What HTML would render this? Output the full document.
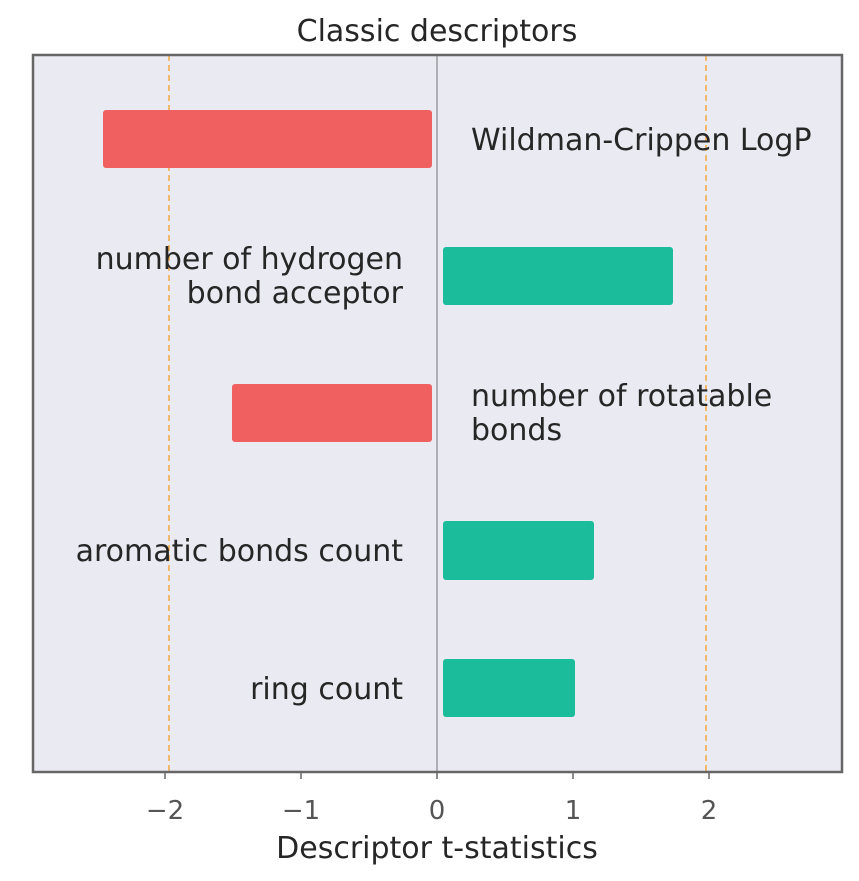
<!DOCTYPE html>
<html><head><style>body{margin:0;background:#fff}svg{display:block}</style></head><body>
<svg width="859" height="881" xmlns="http://www.w3.org/2000/svg" font-family="DejaVu Sans, Liberation Sans, sans-serif">
<text x="437" y="41" font-size="30" fill="#262626" text-anchor="middle">Classic descriptors</text>
<rect x="33" y="55" width="809" height="717" fill="#eaeaf2"/>
<line x1="437" y1="55" x2="437" y2="772" stroke="#777" stroke-width="1"/>
<line x1="169" y1="55" x2="169" y2="772" stroke="#f5a742" stroke-width="1.5" stroke-dasharray="6,4"/>
<line x1="706" y1="55" x2="706" y2="772" stroke="#f5a742" stroke-width="1.5" stroke-dasharray="6,4"/>
<rect x="103" y="110" width="329" height="58" rx="3" fill="#f06060"/>
<rect x="443" y="247" width="230" height="58" rx="3" fill="#1abc9c"/>
<rect x="232" y="384" width="200" height="58" rx="3" fill="#f06060"/>
<rect x="443" y="521" width="151" height="59" rx="3" fill="#1abc9c"/>
<rect x="443" y="659" width="132" height="58" rx="3" fill="#1abc9c"/>
<g font-size="30" fill="#262626">
<text x="471" y="150">Wildman-Crippen LogP</text>
<text x="403" y="269" text-anchor="end">number of hydrogen</text>
<text x="403" y="303" text-anchor="end">bond acceptor</text>
<text x="471" y="406">number of rotatable</text>
<text x="471" y="440">bonds</text>
<text x="403" y="561" text-anchor="end">aromatic bonds count</text>
<text x="403" y="699" text-anchor="end">ring count</text>
</g>
<rect x="33" y="55" width="809" height="717" fill="none" stroke="#666" stroke-width="2.5"/>
<g stroke="#666" stroke-width="1.5">
<line x1="165" y1="772" x2="165" y2="779"/><line x1="301" y1="772" x2="301" y2="779"/>
<line x1="437" y1="772" x2="437" y2="779"/><line x1="573" y1="772" x2="573" y2="779"/>
<line x1="709" y1="772" x2="709" y2="779"/>
</g>
<g font-size="26" fill="#555" text-anchor="middle">
<text x="165" y="819">−2</text><text x="301" y="819">−1</text><text x="437" y="819">0</text>
<text x="573" y="819">1</text><text x="709" y="819">2</text>
</g>
<text x="437" y="858" font-size="30" fill="#262626" text-anchor="middle">Descriptor t-statistics</text>
</svg>
</body></html>
